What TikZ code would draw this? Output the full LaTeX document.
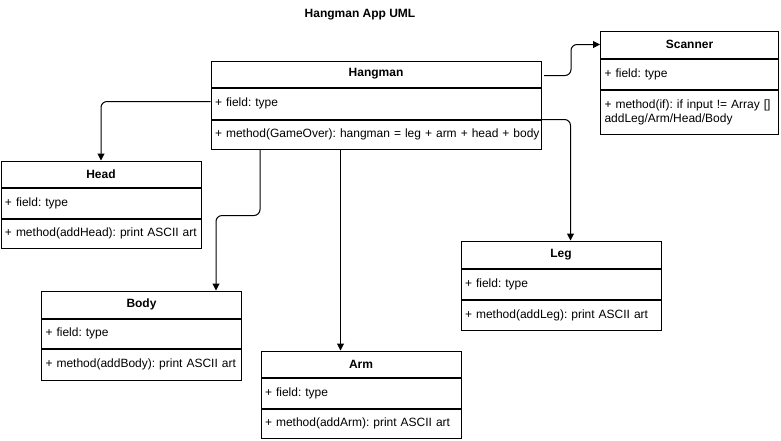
\documentclass[tikz,border=0pt]{standalone}
\usepackage{fontspec}
\setmainfont{Liberation Sans}
\frenchspacing
\usetikzlibrary{arrows.meta}
\tikzset{
  umlhd/.style={draw, line width=1pt, inner sep=0pt, align=center, anchor=north west,
    font=\fontsize{12}{14}\selectfont\bfseries},
  umlpt/.style={draw, line width=1pt, inner xsep=4pt, inner ysep=0pt, align=left, anchor=north west,
    font=\fontsize{12}{14}\selectfont\frenchspacing},
  link/.style={line width=1pt, rounded corners=6pt, -{Triangle[length=7pt,width=7pt]}},
  ttl/.style={font=\fontsize{12}{14}\selectfont\bfseries}
}
\begin{document}
\begin{tikzpicture}[x=1pt,y=-1pt]
\useasboundingbox[fill=white] (0,0) rectangle (781,440);
\node[ttl] (title) at (360,15) {Hangman App UML};
% Hangman
\node[umlhd, minimum width=330pt, minimum height=26pt] (hm) at (210.5,60.5) {Hangman};
\node[umlpt, text width=322pt, minimum height=31pt] (hmf) at (hm.south west) {+ field: type};
\node[umlpt, text width=322pt, minimum height=29pt] (hmm) at (hmf.south west) {\mbox{+ method(GameOver): hangman = leg + arm + head + body}};
% Scanner
\node[umlhd, minimum width=178pt, minimum height=27pt] (sc) at (600,30.5) {Scanner};
\node[umlpt, text width=170pt, minimum height=30pt] (scf) at (sc.south west) {+ field: type};
\node[umlpt, text width=170pt, minimum height=44pt] (scm) at (scf.south west) {+ method(if): if input != Array []\\addLeg/Arm/Head/Body};
% Head
\node[umlhd, minimum width=200pt, minimum height=26pt] (hd) at (0.5,160.5) {Head};
\node[umlpt, text width=192pt, minimum height=30pt] (hdf) at (hd.south west) {+ field: type};
\node[umlpt, text width=192pt, minimum height=29pt] (hdm) at (hdf.south west) {\mbox{+ method(addHead): print ASCII art}};
% Body
\node[umlhd, minimum width=200pt, minimum height=27pt] (bd) at (41,290.5) {Body};
\node[umlpt, text width=192pt, minimum height=29pt] (bdf) at (bd.south west) {+ field: type};
\node[umlpt, text width=192pt, minimum height=31pt] (bdm) at (bdf.south west) {\mbox{+ method(addBody): print ASCII art}};
% Arm
\node[umlhd, minimum width=200pt, minimum height=26pt] (am) at (260.5,350.5) {Arm};
\node[umlpt, text width=192pt, minimum height=30pt] (amf) at (am.south west) {+ field: type};
\node[umlpt, text width=192pt, minimum height=29pt] (amm) at (amf.south west) {\mbox{+ method(addArm): print ASCII art}};
% Leg
\node[umlhd, minimum width=200pt, minimum height=27pt] (lg) at (460.5,240.5) {Leg};
\node[umlpt, text width=192pt, minimum height=30pt] (lgf) at (lg.south west) {+ field: type};
\node[umlpt, text width=192pt, minimum height=30pt] (lgm) at (lgf.south west) {\mbox{+ method(addLeg): print ASCII art}};
% connectors
\draw[link] ([xshift=2.5pt,yshift=-1.5pt]hm.east) -- ++(27,0) |- (sc.west);
\draw[link] (hmf.south east) -| ([xshift=9.5pt]lg.north);
\draw[link] ([yshift=2pt]hmf.west) -| (hd.north);
\draw[link] ([xshift=49.5pt]hmm.south west) |- ([xshift=-26pt,yshift=75pt]bd.north east) -- ([xshift=-26pt]bd.north east);
\draw[link] ([xshift=130pt]hmm.south west) -- ([xshift=80pt]am.north west);
\end{tikzpicture}
\end{document}
